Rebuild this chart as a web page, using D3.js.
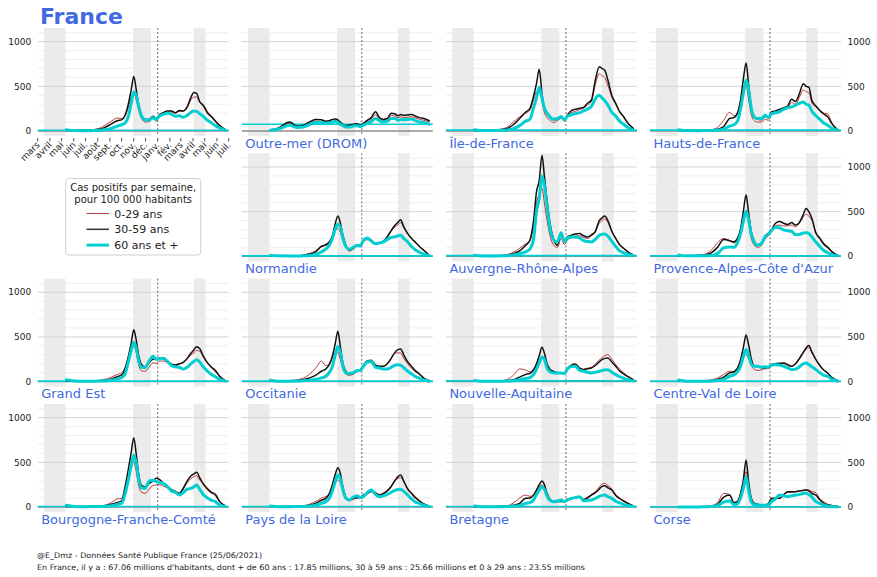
<!DOCTYPE html>
<html><head><meta charset="utf-8">
<script src="https://cdn.jsdelivr.net/npm/d3@7"></script>
<style>
body{margin:0;background:#fff}
svg{display:block}
text{font-family:"DejaVu Sans",sans-serif}
</style>
</head><body>
<svg id="chart" width="877" height="577"></svg>
<script>
// ---------------- DATA ----------------
const dates = ["2020-05-13","2020-06-01","2020-07-01","2020-07-20","2020-08-05","2020-08-20","2020-09-05","2020-09-20","2020-10-01","2020-10-10","2020-10-18","2020-10-25","2020-11-01","2020-11-07","2020-11-14","2020-11-21","2020-11-30","2020-12-10","2020-12-20","2020-12-28","2021-01-05","2021-01-15","2021-01-25","2021-02-05","2021-02-15","2021-02-25","2021-03-07","2021-03-17","2021-03-27","2021-04-03","2021-04-10","2021-04-18","2021-04-28","2021-05-08","2021-05-18","2021-05-28","2021-06-08","2021-06-22"];
const monthTicks = ["2020-03-01","2020-04-01","2020-05-01","2020-06-01","2020-07-01","2020-08-01","2020-09-01","2020-10-01","2020-11-01","2020-12-01","2021-01-01","2021-02-01","2021-03-01","2021-04-01","2021-05-01","2021-06-01","2021-07-01"];
const monthLabels = ["mars","avril","mai","juin","juil.","août","sept.","oct.","nov.","déc.","janv.","fév.","mars","avril","mai","juin","juil."];
const lockdowns = [["2020-03-17","2020-05-11"],["2020-10-30","2020-12-15"],["2021-04-03","2021-05-03"]];
const newYear = "2021-01-01";
const xDomain = ["2020-03-01","2021-07-01"];
const yTicks = [0,500,1000];
const yMinor = [100,200,300,400,600,700,800,900,1100];
const seriesNames = ["0-29 ans","30-59 ans","60 ans et +"];
const regions = ["France","Outre-mer (DROM)","Île-de-France","Hauts-de-France","Normandie","Auvergne-Rhône-Alpes","Provence-Alpes-Côte d'Azur","Grand Est","Occitanie","Nouvelle-Aquitaine","Centre-Val de Loire","Bourgogne-Franche-Comté","Pays de la Loire","Bretagne","Corse"];

const france_0_29  = [5,6,8,15,30,65,110,145,140,170,260,370,420,350,220,140,100,105,140,110,160,185,205,215,200,220,220,260,350,380,380,320,290,215,170,120,65,20];
const france_30_59 = [5,8,8,12,20,40,80,115,125,180,300,450,610,470,270,170,130,130,165,140,180,205,225,225,205,230,225,270,380,430,420,330,280,200,160,110,60,15];
const france_60    = [15,5,4,5,8,15,30,55,70,90,160,300,440,400,270,165,125,120,150,130,165,185,200,190,165,170,155,175,210,225,220,195,160,120,90,60,35,8];

const drom_0_29  = [8,25,85,45,55,85,110,105,95,100,110,115,105,85,65,50,55,65,70,55,75,100,130,180,130,115,125,175,165,150,160,150,155,160,145,130,120,100];
const drom_30_59 = [10,30,100,55,65,100,130,125,110,115,130,135,125,100,75,60,65,75,80,65,85,120,150,215,150,130,140,200,190,170,185,175,180,185,165,150,140,115];
const drom_60    = [8,20,65,40,45,70,95,95,85,90,100,105,95,75,60,45,45,55,60,50,65,85,105,140,115,100,110,140,140,120,130,125,130,135,115,100,95,75];

const idf_0_29  = [5,5,10,20,45,100,160,200,230,340,440,450,330,210,150,120,95,115,140,110,165,205,220,240,255,290,330,520,640,620,600,510,380,300,215,165,90,30];
const idf_30_59 = [5,5,8,15,30,70,140,210,250,380,530,690,420,260,200,165,125,130,165,125,180,228,243,254,265,310,347,571,720,700,680,570,400,310,216,160,86,30];
const idf_60    = [15,5,5,8,12,25,60,110,130,250,370,490,370,260,200,160,130,140,160,125,165,180,195,205,225,245,275,360,400,370,340,290,210,165,110,75,40,10];

const hdf_0_29  = [5,5,6,8,15,40,120,210,170,200,330,480,520,360,190,120,100,100,130,120,180,195,215,235,255,320,300,380,460,440,430,310,270,230,200,190,90,20];
const hdf_30_59 = [5,5,5,6,10,20,50,140,150,200,350,580,760,540,260,170,130,125,165,150,215,225,240,260,280,355,330,420,530,500,490,340,280,230,190,160,80,15];
const hdf_60    = [15,5,4,5,6,10,20,55,70,110,250,420,570,480,260,160,140,140,175,150,195,205,215,245,260,270,290,310,325,300,290,220,170,130,90,65,30,10];

const nor_0_29  = [5,5,6,8,14,30,60,115,120,140,200,280,310,270,170,100,60,80,110,110,160,185,170,140,150,165,210,280,330,350,380,320,260,200,150,110,65,12];
const nor_30_59 = [5,5,5,6,10,25,50,110,130,160,230,360,450,380,230,130,70,90,125,120,180,205,180,142,150,170,220,290,350,380,410,330,254,200,155,110,67,10];
const nor_60    = [12,5,4,4,6,10,20,50,80,120,200,300,360,330,200,110,80,100,125,115,180,205,170,140,150,160,190,210,220,230,235,200,160,110,70,45,25,5];

const ara_0_29  = [5,5,6,10,20,45,90,140,170,330,600,700,760,600,400,240,130,100,200,130,185,205,225,230,210,200,230,270,370,400,420,380,280,200,130,90,50,15];
const ara_30_59 = [5,4,4,6,10,30,60,120,180,380,720,850,1130,900,620,380,200,125,254,160,220,235,250,254,230,216,240,280,400,430,450,400,280,200,130,90,50,15];
const ara_60    = [12,4,4,5,6,15,30,50,80,180,500,650,900,800,560,330,190,160,265,165,205,215,215,205,175,165,160,190,235,245,250,225,170,110,60,40,20,8];

const paca_0_29  = [5,6,12,25,70,150,200,175,150,190,280,410,480,370,200,130,100,120,200,230,290,340,350,340,340,350,330,370,440,470,450,400,270,210,150,110,55,15];
const paca_30_59 = [5,5,8,15,40,100,187,175,160,200,310,500,690,500,280,180,130,150,230,260,300,370,390,370,355,377,350,380,470,534,500,420,260,200,135,100,50,12];
const paca_60    = [15,5,5,6,10,30,95,105,100,150,250,390,505,420,250,165,125,140,225,245,290,325,320,295,285,280,240,245,260,265,255,215,160,110,65,40,18,5];

const ge_0_29  = [5,5,6,8,14,25,50,80,100,160,270,360,400,330,180,120,115,160,210,205,230,230,215,190,180,195,210,250,300,320,350,340,270,210,160,134,60,15];
const ge_30_59 = [10,5,5,6,10,15,30,55,75,150,280,420,580,470,280,190,165,210,250,255,265,255,230,195,185,200,215,260,320,355,390,370,280,209,160,120,60,12];
const ge_60    = [20,8,5,5,6,8,15,30,45,90,220,340,440,380,220,160,155,230,285,250,255,260,230,180,165,160,140,160,200,225,245,220,160,116,80,55,25,5];

const occ_0_29  = [5,6,12,20,40,80,150,228,180,190,270,340,330,250,140,85,70,85,115,125,170,225,225,175,165,170,200,260,320,321,320,260,200,145,110,80,40,12];
const occ_30_59 = [5,5,8,12,20,40,70,116,140,190,284,420,563,400,200,116,85,90,120,134,180,230,240,185,172,172,200,260,330,358,366,300,220,170,120,85,40,10];
const occ_60    = [15,5,5,6,10,15,25,41,60,100,172,290,396,330,170,97,90,100,125,125,170,220,225,160,153,140,140,160,185,190,185,155,116,85,55,38,18,5];

const naq_0_29  = [5,4,6,10,25,70,142,130,110,125,180,240,265,240,150,110,95,90,95,90,140,170,175,145,140,150,160,200,240,270,290,302,250,190,140,100,60,20];
const naq_30_59 = [4,3,4,6,10,20,50,80,90,130,200,290,384,320,200,140,115,100,100,95,150,185,198,150,134,145,153,180,220,245,260,265,220,172,120,85,55,20];
const naq_60    = [12,3,3,4,6,10,20,35,45,75,140,210,276,250,150,110,97,97,95,90,140,170,172,125,116,105,97,105,115,125,130,134,105,78,55,35,20,8];

const cvl_0_29  = [6,5,8,12,20,40,80,116,110,135,210,280,300,260,180,140,125,130,145,145,172,185,190,200,185,170,195,250,320,360,380,320,250,180,130,100,50,15];
const cvl_30_59 = [8,5,5,8,12,25,50,97,110,150,246,380,522,420,260,180,172,155,153,165,190,200,205,209,190,172,200,260,330,377,403,330,246,180,130,97,45,12];
const cvl_60    = [18,5,4,5,8,12,25,60,75,110,172,280,358,300,200,172,170,164,165,160,190,190,185,172,155,134,140,165,200,209,190,165,134,100,70,60,25,5];

const bfc_0_29  = [5,5,5,6,10,20,50,90,97,200,340,450,507,400,230,165,153,200,240,246,250,235,215,185,165,150,200,270,320,340,350,300,265,210,170,153,65,15];
const bfc_30_59 = [6,5,4,5,8,15,30,50,70,230,420,600,776,600,350,240,228,265,290,321,310,270,235,195,175,153,210,290,350,370,388,330,250,200,160,134,60,12];
const bfc_60    = [20,6,4,5,6,8,15,30,40,150,300,450,582,500,300,215,209,290,300,284,275,265,235,180,165,134,160,200,209,225,246,200,134,100,75,60,22,5];

const pdl_0_29  = [5,5,6,8,14,30,60,100,116,140,210,270,302,270,170,90,70,85,100,100,130,150,170,150,140,155,185,235,300,320,330,280,210,160,115,75,35,10];
const pdl_30_59 = [5,4,5,6,10,20,41,75,97,150,250,360,440,380,220,110,78,95,104,110,135,150,175,160,134,150,180,230,300,340,358,290,200,150,100,67,35,8];
const pdl_60    = [12,4,4,5,6,10,20,40,60,95,180,280,358,320,190,100,78,110,127,105,116,160,190,140,116,125,140,165,185,195,198,175,134,90,55,41,18,5];

const bre_0_29  = [4,4,5,8,15,45,100,134,120,130,180,230,246,210,135,85,65,60,65,62,88,100,110,115,90,110,140,170,225,255,265,240,200,140,100,75,45,12];
const bre_30_59 = [3,3,4,6,10,20,40,97,100,130,190,250,291,250,150,90,67,62,62,65,85,97,105,116,82,100,134,160,200,230,239,215,190,130,95,65,40,12];
const bre_60    = [10,3,3,4,6,10,15,41,50,75,140,190,228,200,120,75,60,68,78,60,80,95,105,116,70,72,78,95,120,130,134,115,97,65,45,30,18,5];

const cor_0_29  = [0,1,3,6,15,50,153,140,55,70,160,280,396,250,80,40,30,22,22,40,90,95,95,135,165,165,170,180,190,195,190,172,160,90,60,30,18,8];
const cor_30_59 = [0,1,2,4,8,30,110,134,45,60,150,300,526,300,100,45,30,22,22,40,97,97,97,140,172,172,172,180,185,190,180,150,134,80,41,25,15,5];
const cor_60    = [0,1,1,3,5,15,55,67,25,35,100,210,340,200,60,25,22,20,20,25,60,90,134,125,116,125,134,140,150,153,140,110,60,40,22,12,6,3];

const footer1 = "@E_Dmz - Données Santé Publique France (25/06/2021)";
const footer2 = "En France, il y a : 67.06 millions d'habitants, dont + de 60 ans : 17.85 millions, 30 à 59 ans : 25.66 millions et 0 à 29 ans : 23.55 millions";
const legendTitle = ["Cas positifs par semaine,","pour 100 000 habitants"];

// table built from the arrays
const regionSeries = [
  [france_0_29,france_30_59,france_60],
  [drom_0_29,drom_30_59,drom_60],
  [idf_0_29,idf_30_59,idf_60],
  [hdf_0_29,hdf_30_59,hdf_60],
  [nor_0_29,nor_30_59,nor_60],
  [ara_0_29,ara_30_59,ara_60],
  [paca_0_29,paca_30_59,paca_60],
  [ge_0_29,ge_30_59,ge_60],
  [occ_0_29,occ_30_59,occ_60],
  [naq_0_29,naq_30_59,naq_60],
  [cvl_0_29,cvl_30_59,cvl_60],
  [bfc_0_29,bfc_30_59,bfc_60],
  [pdl_0_29,pdl_30_59,pdl_60],
  [bre_0_29,bre_30_59,bre_60],
  [cor_0_29,cor_30_59,cor_60]
];

// ---------------- LAYOUT ----------------
const cells = [[0,0],[0,1],[0,2],[0,3],[1,1],[1,2],[1,3],[2,0],[2,1],[2,2],[2,3],[3,0],[3,1],[3,2],[3,3]];
const colX = [37.7, 241.8, 445.9, 650];
const rowY = [28, 153.3, 278.6, 404];
const PW = 191, PH = 108;
const BLUE = "#4169e1";
const colors = ["#b22222", "#111111", "#00ced1"];
const widths = [0.9, 1.5, 3];

const parse = d3.utcParse("%Y-%m-%d");
const x = d3.scaleUtc().domain(xDomain.map(parse)).range([0, PW]);
const y = d3.scaleLinear().domain([-56, 1153]).range([PH, 0]);
const dd = dates.map(parse);

const svg = d3.select("#chart");
svg.append("rect").attr("width",877).attr("height",577).attr("fill","#fff");

regions.forEach((name, i) => {
  const [r, c] = cells[i];
  const g = svg.append("g").attr("transform", `translate(${colX[c]},${rowY[r]})`);
  // lockdown spans
  g.selectAll("rect.lock").data(lockdowns).join("rect")
    .attr("x", d => x(parse(d[0]))).attr("width", d => x(parse(d[1])) - x(parse(d[0])))
    .attr("y", 0).attr("height", PH).attr("fill", "#ebebeb");
  // grid
  g.selectAll("line.minor").data(yMinor).join("line")
    .attr("x1", 0).attr("x2", PW).attr("y1", d => y(d)).attr("y2", d => y(d))
    .attr("stroke", "#ececec").attr("stroke-width", 0.9);
  g.selectAll("line.major").data(yTicks.slice(1)).join("line")
    .attr("x1", 0).attr("x2", PW).attr("y1", d => y(d)).attr("y2", d => y(d))
    .attr("stroke", "#d3d3d3").attr("stroke-width", 1);
  g.append("line").attr("x1", 0).attr("x2", PW).attr("y1", y(0)).attr("y2", y(0))
    .attr("stroke", "#8c8c8c").attr("stroke-width", 1.3);
  // new year dashed line
  g.append("line").attr("x1", x(parse(newYear))).attr("x2", x(parse(newYear)))
    .attr("y1", 0).attr("y2", PH).attr("stroke", "#444").attr("stroke-width", 0.8)
    .attr("stroke-dasharray", "2,2");
  // horizontal line at latest 60+ value
  const s60 = regionSeries[i][2];
  g.append("line").attr("x1", 0).attr("x2", PW)
    .attr("y1", y(s60[s60.length-1])).attr("y2", y(s60[s60.length-1]))
    .attr("stroke", colors[2]).attr("stroke-width", 1.6);
  // series
  const line = d3.line().x((d, k) => x(dd[k])).y(d => y(d)).curve(d3.curveMonotoneX);
  regionSeries[i].forEach((vals, k) => {
    g.append("path").attr("d", line(vals)).attr("fill", "none")
      .attr("stroke", colors[k]).attr("stroke-width", widths[k])
      .attr("stroke-linejoin", "round").attr("stroke-linecap", "round");
  });
  // y tick labels
  if (c === 0 || c === 3) {
    g.selectAll("text.yt").data(yTicks).join("text")
      .attr("x", c === 0 ? -6.5 : PW + 6.5).attr("y", d => y(d) + 3.2)
      .attr("text-anchor", c === 0 ? "end" : "start")
      .attr("font-size", 9).attr("fill", "#222").text(d => d);
  }
  // labels
  if (i === 0) {
    svg.append("text").attr("x", 40).attr("y", 23.5).attr("font-size", 22)
      .attr("font-weight", "bold").attr("fill", BLUE).text(name);
    // x axis
    const xa = g.append("g").attr("transform", `translate(0,${PH + 2})`);
    monthTicks.forEach((m, k) => {
      const px = x(parse(m));
      xa.append("line").attr("x1", px).attr("x2", px).attr("y1", 0).attr("y2", 3.5)
        .attr("stroke", "#222").attr("stroke-width", 0.8);
      xa.append("text").attr("transform", `translate(${px + 2.5},${7.5}) rotate(-45)`)
        .attr("text-anchor", "end").attr("font-size", 9).attr("fill", "#222")
        .text(monthLabels[k]);
    });
  } else {
    g.append("text").attr("x", 3.5).attr("y", y(0) + 16.8).attr("font-size", 13)
      .attr("fill", BLUE).text(name);
  }
});

// legend
const lg = svg.append("g");
lg.append("rect").attr("x", 65.7).attr("y", 178.5).attr("width", 135).attr("height", 76.5)
  .attr("rx", 3).attr("fill", "#fff").attr("stroke", "#d0d0d0").attr("stroke-width", 1);
legendTitle.forEach((t, k) => {
  lg.append("text").attr("x", 133.2).attr("y", 190.8 + k * 11.8).attr("text-anchor", "middle")
    .attr("font-size", 10).attr("fill", "#222").text(t);
});
seriesNames.forEach((s, k) => {
  const ly = 213.5 + k * 15.8;
  lg.append("line").attr("x1", 86.5).attr("x2", 109).attr("y1", ly).attr("y2", ly)
    .attr("stroke", k === 1 ? "#333" : colors[k]).attr("stroke-width", widths[k]);
  lg.append("text").attr("x", 114.3).attr("y", ly + 4).attr("font-size", 11)
    .attr("fill", "#222").text(s);
});

// footer
svg.append("text").attr("x", 37).attr("y", 558).attr("font-size", 7.6).attr("fill", "#222")
  .attr("textLength", 225).attr("lengthAdjust", "spacingAndGlyphs").text(footer1);
svg.append("text").attr("x", 37).attr("y", 569.5).attr("font-size", 7.6).attr("fill", "#222")
  .attr("textLength", 548).attr("lengthAdjust", "spacingAndGlyphs").text(footer2);
</script>
</body></html>
